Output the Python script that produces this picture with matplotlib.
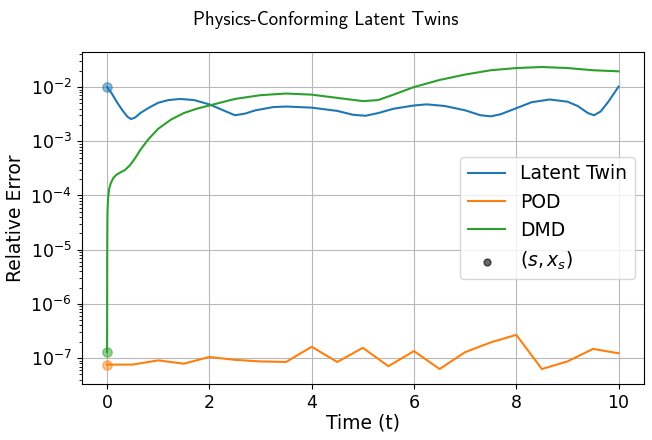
import matplotlib.pyplot as plt

# Latent Twin error curve
t_twin = [0, 0.1, 0.2, 0.3, 0.4, 0.47, 0.55, 0.65, 0.8, 1.0, 1.2, 1.43, 1.7, 2.0,
          2.25, 2.5, 2.7, 2.9, 3.25, 3.5, 4.0, 4.5, 4.8, 5.05, 5.3, 5.6, 6.0, 6.25,
          6.6, 7.0, 7.3, 7.5, 7.7, 8.0, 8.3, 8.65, 9.0, 9.2, 9.4, 9.52, 9.65, 9.8, 10.0]
err_twin = [1.00e-2, 7.41e-3, 5.13e-3, 3.72e-3, 2.82e-3, 2.57e-3, 2.75e-3, 3.31e-3,
            4.07e-3, 5.13e-3, 5.75e-3, 6.03e-3, 5.75e-3, 4.79e-3, 3.80e-3, 3.02e-3,
            3.24e-3, 3.72e-3, 4.27e-3, 4.37e-3, 4.17e-3, 3.63e-3, 3.09e-3, 2.95e-3,
            3.31e-3, 3.98e-3, 4.57e-3, 4.79e-3, 4.47e-3, 3.72e-3, 3.02e-3, 2.88e-3,
            3.16e-3, 4.07e-3, 5.25e-3, 5.89e-3, 5.37e-3, 4.47e-3, 3.31e-3, 3.02e-3,
            3.55e-3, 5.37e-3, 1.02e-2]

# POD error
t_pod = [0, 0.5, 1, 1.5, 2, 2.5, 3, 3.5, 4, 4.5, 5, 5.5, 6, 6.5, 7, 7.5, 8, 8.5, 9, 9.5, 10]
err_pod = [7.6e-8, 7.6e-8, 9.1e-8, 7.9e-8, 1.05e-7, 9.3e-8, 8.7e-8, 8.5e-8, 1.62e-7,
           8.5e-8, 1.55e-7, 7.1e-8, 1.35e-7, 6.3e-8, 1.29e-7, 1.95e-7, 2.69e-7,
           6.3e-8, 8.7e-8, 1.48e-7, 1.23e-7]

# DMD error
t_dmd = [0, 0.003, 0.006, 0.01, 0.02, 0.04, 0.07, 0.12, 0.18, 0.25, 0.35, 0.45, 0.55,
         0.65, 0.8, 1.0, 1.25, 1.5, 1.75, 2.0, 2.5, 3.0, 3.5, 4.0, 4.5, 5.0, 5.3, 5.6,
         6.0, 6.5, 7.0, 7.5, 8.0, 8.5, 9.0, 9.5, 10.0]
err_dmd = [1.29e-7, 1.0e-5, 3.16e-5, 5.62e-5, 8.91e-5, 1.32e-4, 1.66e-4, 2.09e-4,
           2.40e-4, 2.63e-4, 2.95e-4, 3.63e-4, 4.90e-4, 6.92e-4, 1.07e-3, 1.70e-3,
           2.51e-3, 3.31e-3, 3.98e-3, 4.57e-3, 6.03e-3, 7.08e-3, 7.59e-3, 7.24e-3,
           6.31e-3, 5.50e-3, 5.75e-3, 7.24e-3, 1.00e-2, 1.35e-2, 1.70e-2, 2.04e-2,
           2.24e-2, 2.34e-2, 2.24e-2, 2.04e-2, 1.95e-2]

fig = plt.figure(figsize=(6.52, 4.4), dpi=100)
ax = fig.add_axes([0.125, 0.127, 0.863, 0.755])

ax.plot(t_twin, err_twin, color='C0', lw=1.5, label='Latent Twin')
ax.plot(t_pod, err_pod, color='C1', lw=1.5, label='POD')
ax.plot(t_dmd, err_dmd, color='C2', lw=1.5, label='DMD')

# starting points
ax.scatter([t_twin[0]], [err_twin[0]], color='C0', s=45, alpha=0.5, zorder=3)
ax.scatter([t_pod[0]], [err_pod[0]], color='C1', s=45, alpha=0.5, zorder=3)
ax.scatter([t_dmd[0]], [err_dmd[0]], color='C2', s=45, alpha=0.5, zorder=3)
ax.scatter([], [], color='k', s=25, alpha=0.6, label='$(s, x_s)$')

ax.set_yscale('log')
ax.set_xlabel('Time (t)', fontsize=13.5, labelpad=1.5)
ax.set_ylabel('Relative Error', fontsize=13.5)
ax.tick_params(labelsize=12.5)
ax.grid(True, color='#b8b8b8')
ax.legend(loc='center right', fontsize=13.5)

fig.suptitle('Physics-Conforming Latent Twins', fontfamily='cmss10', fontsize=13.5, y=0.975)

fig.savefig('out.png', dpi=100)
